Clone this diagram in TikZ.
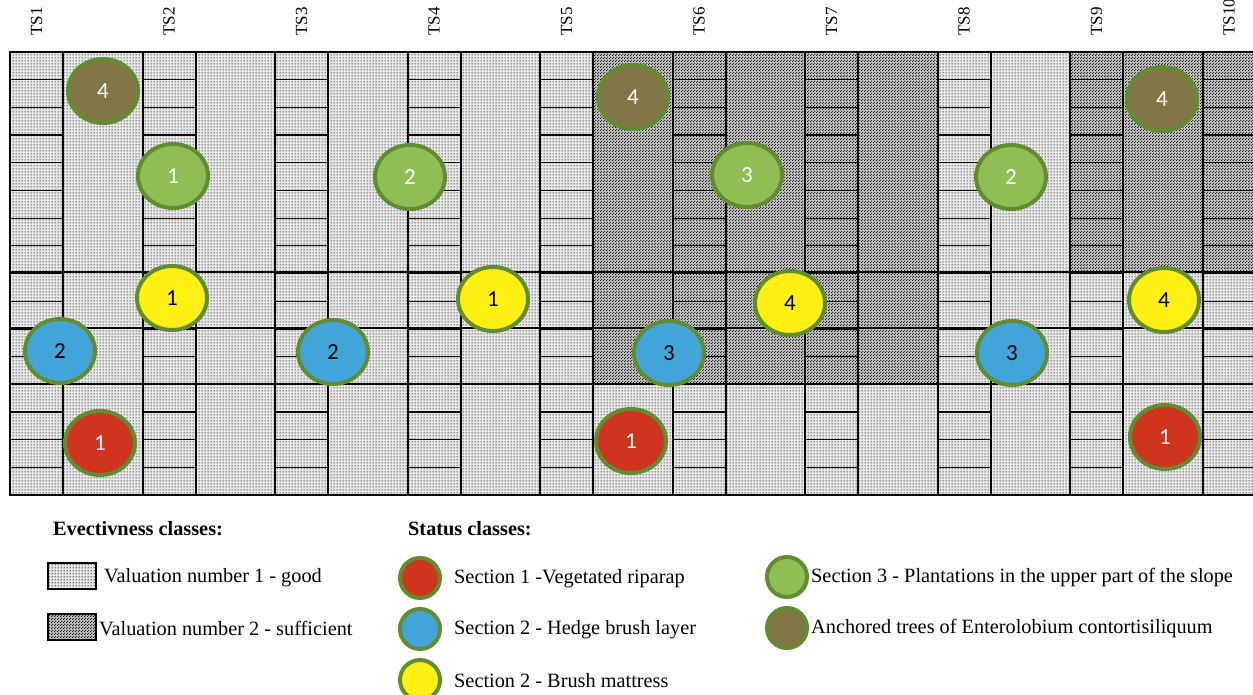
\documentclass[tikz,border=0pt]{standalone}
\usepackage{fontspec}
\setmainfont{Liberation Serif}
\newfontfamily\digitfont{Carlito}
\usetikzlibrary{shapes.geometric,patterns}

\pgfdeclarepatternformonly{gooddots}{\pgfpointorigin}{\pgfpoint{3pt}{3pt}}{\pgfpoint{3pt}{3pt}}{%
  \pgfpathcircle{\pgfpoint{1.5pt}{1.5pt}}{0.8pt}\pgfusepath{fill}}
\pgfdeclarepatternformonly{suffdots}{\pgfpointorigin}{\pgfpoint{3pt}{3pt}}{\pgfpoint{3pt}{3pt}}{%
  \pgfpathcircle{\pgfpoint{0.75pt}{0.75pt}}{0.8pt}%
  \pgfpathcircle{\pgfpoint{2.25pt}{2.25pt}}{0.8pt}\pgfusepath{fill}}

\definecolor{riprap}{RGB}{207,52,31}
\definecolor{hedge}{RGB}{66,165,218}
\definecolor{mattress}{RGB}{255,240,20}
\definecolor{plant}{RGB}{145,189,85}
\definecolor{trees}{RGB}{130,117,70}
\definecolor{rim}{RGB}{98,140,48}

\begin{document}
\begin{tikzpicture}[x=1pt,y=-1pt,
  every node/.style={font=\fontsize{20.3}{24}\selectfont},
  bed/.style={line width=1.2pt},
  seam/.style={line width=2pt},
  good/.style={fill=black!9,postaction={pattern=gooddots}},
  fair/.style={fill=black!24,postaction={pattern=suffdots}},
  spot/.style={ellipse,draw=rim,line width=4pt,minimum width=70pt,minimum height=64pt,
    inner sep=0pt,font=\digitfont\fontsize{23}{23}\selectfont},
  key/.style={circle,draw=rim,line width=4pt,minimum size=40pt,inner sep=0pt},
  keybox/.style={draw,line width=2pt,minimum width=48pt,minimum height=26pt,inner sep=0pt},
  tag/.style={anchor=west,inner sep=0pt}]
\useasboundingbox (0,0) rectangle (1253,695);
\fill[white] (0,0) rectangle (1253,695);

\path[good] (10,52) rectangle (1262,495);
\path[fair] (593,52) rectangle (939,384);
\path[fair] (1071,52) rectangle (1262,272);

\foreach \k in {0,...,9}{
  \draw[seam] (10+132.5*\k,52) -- (10+132.5*\k,495);
  \draw[seam] (63+132.5*\k,52) -- (63+132.5*\k,495);
  \foreach \j in {1,...,15}
    \draw[bed] (10+132.5*\k,52+27.69*\j) -- (63+132.5*\k,52+27.69*\j);
}
\foreach \n in {1,...,10}
  \node[rotate=90,anchor=west,font=\fontsize{17}{18}\selectfont] (ts\n) at (36.5+132.5*\n-132.5,39) {TS\n};
\foreach \y in {272,328,384}
  \draw[seam] (10,\y) -- (1262,\y);
\draw[line width=2.5pt] (10,52) rectangle (1262,495);

\node[spot,fill=trees,text=white] (t1) at (103,91) {4};
\node[spot,fill=trees,text=white] (t2) at (633,97) {4};
\node[spot,fill=trees,text=white] (t3) at (1162,99) {4};
\node[spot,fill=plant,text=white] (p1) at (173,176) {1};
\node[spot,fill=plant,text=white] (p2) at (410,177) {2};
\node[spot,fill=plant,text=white] (p3) at (747,175) {3};
\node[spot,fill=plant,text=white] (p4) at (1011,177) {2};
\node[spot,fill=mattress] (m1) at (172,298) {1};
\node[spot,fill=mattress] (m2) at (493,299) {1};
\node[spot,fill=mattress] (m3) at (790,303) {4};
\node[spot,fill=mattress] (m4) at (1164,300) {4};
\node[spot,fill=hedge] (h1) at (60,351) {2};
\node[spot,fill=hedge] (h2) at (333,352) {2};
\node[spot,fill=hedge] (h3) at (669,353) {3};
\node[spot,fill=hedge] (h4) at (1012,353) {3};
\node[spot,fill=riprap,text=white] (r1) at (100,443) {1};
\node[spot,fill=riprap,text=white] (r2) at (631,441) {1};
\node[spot,fill=riprap,text=white] (r3) at (1165,437) {1};

\node[tag,font=\bfseries\fontsize{20.3}{24}\selectfont] (effhead) at (53,529) {Evectivness classes:};
\node[keybox,good] (goodbox) at (72,576) {};
\node[tag] (goodtxt) at (104,578) {Valuation number 1 - good};
\node[keybox,fair] (fairbox) at (72,627) {};
\node[tag] (fairtxt) at (99,629) {Valuation number 2 - sufficient};

\node[tag,font=\bfseries\fontsize{20.3}{24}\selectfont] (stathead) at (408,529) {Status classes:};
\node[key,fill=riprap] (k1) at (420,578) {};
\node[tag] (k1txt) at (454,579) {Section 1 -Vegetated riparap};
\node[key,fill=hedge] (k2) at (420,629) {};
\node[tag] (k2txt) at (454,630) {Section 2 - Hedge brush layer};
\node[key,fill=mattress] (k3) at (420,680) {};
\node[tag] (k3txt) at (454,681) {Section 2 - Brush mattress};
\node[key,fill=plant] (k4) at (787,577) {};
\node[tag] (k4txt) at (811,578) {Section 3 - Plantations in the upper part of the slope};
\node[key,fill=trees] (k5) at (787,628) {};
\node[tag] (k5txt) at (811,629) {Anchored trees of Enterolobium contortisiliquum};
\end{tikzpicture}
\end{document}
